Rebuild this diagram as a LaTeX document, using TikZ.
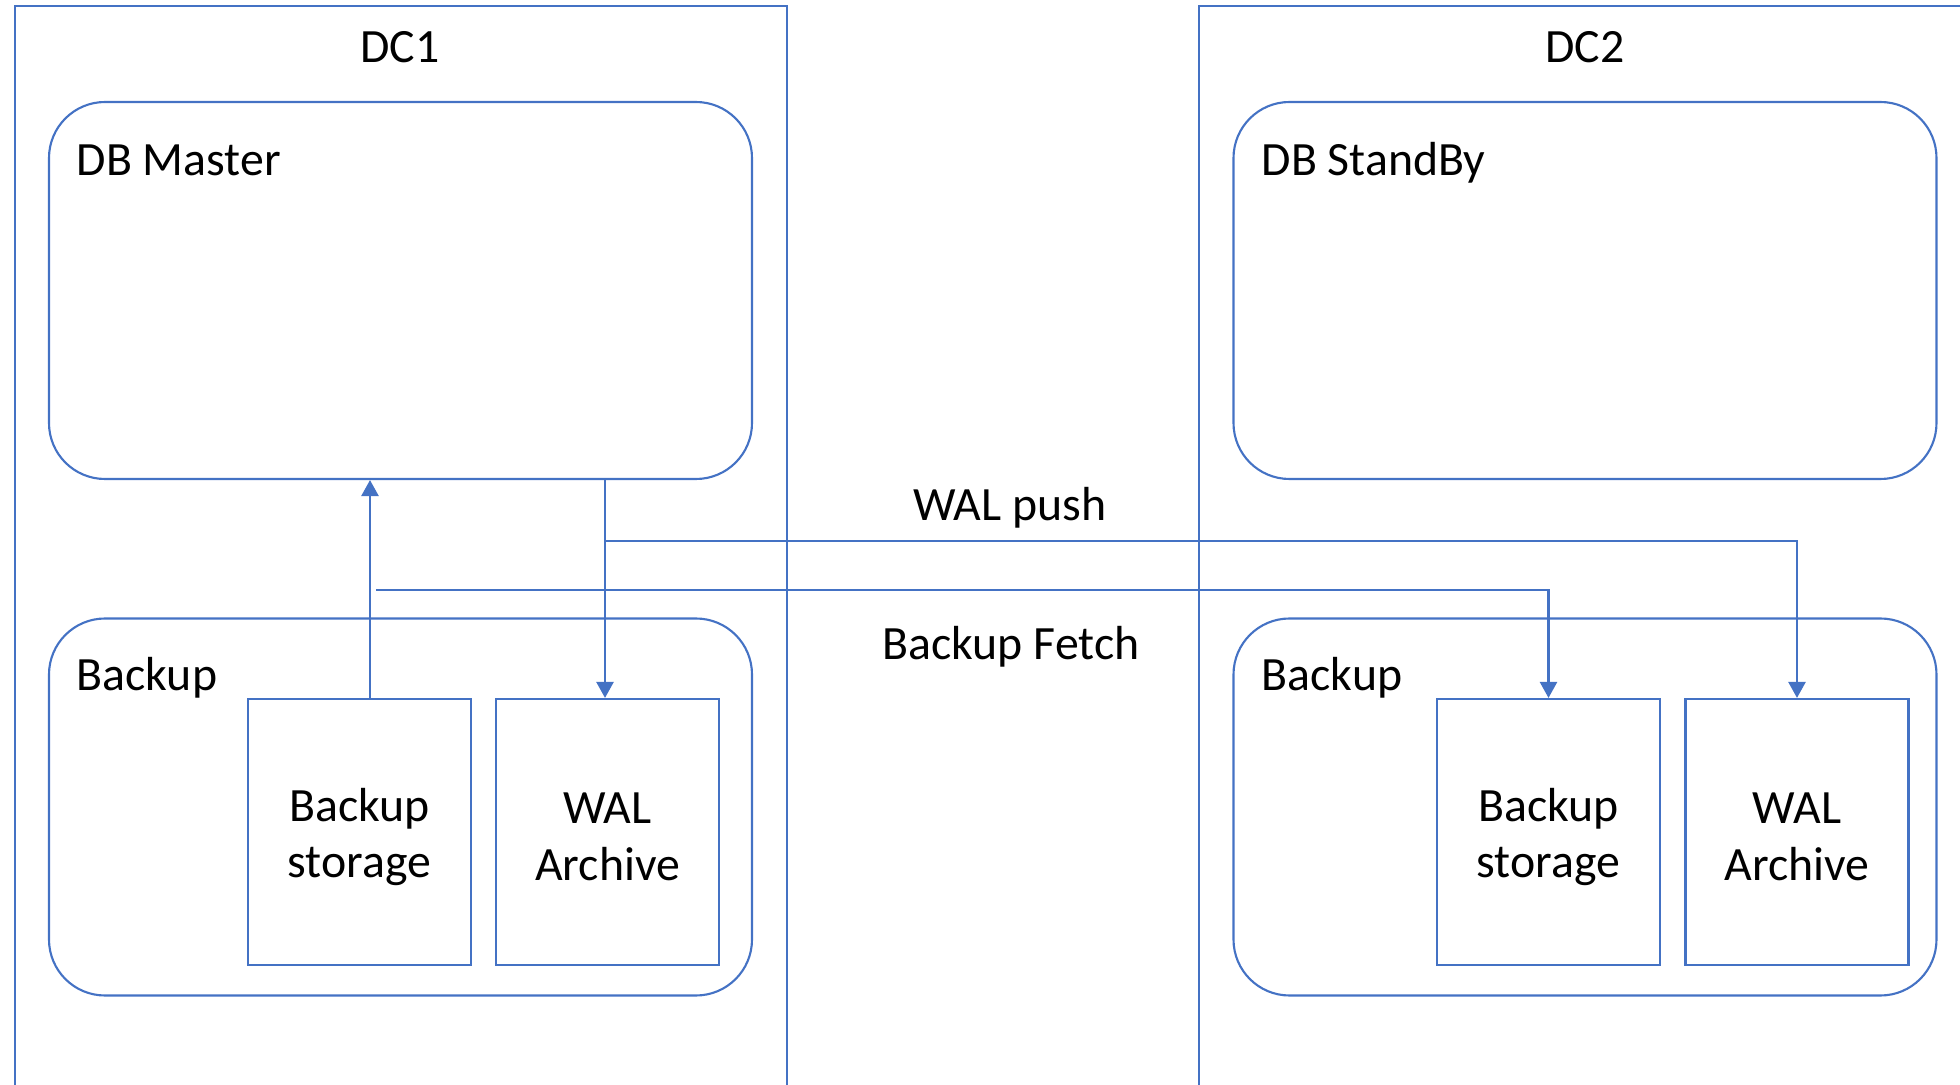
\documentclass[tikz,border=0pt]{standalone}
\usepackage{fontspec}
\setmainfont{Carlito}
\usetikzlibrary{arrows.meta}
\definecolor{officeblue}{HTML}{4472C4}

\begin{document}
\begin{tikzpicture}[x=0.1mm,y=-0.1mm]
        \tikzstyle{every node}=[font=\fontsize{13.6}{16.2}\selectfont, text=black]
        \tikzstyle{site}=[draw=officeblue, line width=0.55pt]
        \tikzstyle{group}=[draw=officeblue, line width=0.6pt, rounded corners=5.6mm, minimum width=70.3mm, minimum height=37.7mm]
        \tikzstyle{store}=[draw=officeblue, line width=0.6pt, minimum width=22.3mm, minimum height=26.6mm, inner sep=0pt]
        \tikzstyle{edge}=[officeblue, line width=0.7pt]
        \tikzstyle{flow}=[edge, -{Triangle[width=1.7mm,length=1.6mm]}]

        \useasboundingbox (0,0) rectangle (1960,1085);
        \clip (0,0) rectangle (1960,1085);

        \draw[site] (15,6) rectangle (787,1100);
        \draw[site] (1199,6) rectangle (1990,1100);

        \node[anchor=base] (dc1) at (400,63)  {DC1};
        \node[anchor=base] (dc2) at (1585,63) {DC2};

        \node[group] (master)  at (400.5,290.5) {};
        \node[group] (standby) at (1585,290.5)  {};
        \node[group] (bakA)    at (400.5,807)   {};
        \node[group] (bakB)    at (1585,807)    {};

        \node[anchor=base west, inner sep=0pt] (masterlbl)  at (76,176)   {DB Master};
        \node[anchor=base west, inner sep=0pt] (standbylbl) at (1261,176) {DB StandBy};
        \node[anchor=base west, inner sep=0pt] (bakAlbl)    at (76,691)   {Backup};
        \node[anchor=base west, inner sep=0pt] (bakBlbl)    at (1261,691) {Backup};

        \node[store] (bsA)  at (359.5,832)  {};
        \node[store] (walA) at (607.5,832)  {};
        \node[store] (bsB)  at (1548.5,832) {};
        \node[store] (walB) at (1797,832)   {};
        \node[align=center] (bsAtxt)  at (359.5,837)  {Backup\\storage};
        \node[align=center] (walAtxt) at (607.5,837)  {WAL\\Archive};
        \node[align=center] (bsBtxt)  at (1548.5,837) {Backup\\storage};
        \node[align=center] (walBtxt) at (1797,837)   {WAL\\Archive};

        \node[anchor=base] (pushlbl)  at (1010,521) {WAL push};
        \node[anchor=base] (fetchlbl) at (1011,660) {Backup Fetch};

        \coordinate (upx)   at (370,0);
        \coordinate (downx) at (605,0);
        \coordinate (pushy) at (0,541);
        \coordinate (fetch) at (376,590);

        \draw[flow] (bsA.north -| upx) -- (master.south -| upx);
        \draw[flow] (master.south -| downx) -- (walA.north -| downx);
        \draw[flow] (downx |- pushy) -- (walB.north |- pushy) -- (walB.north);
        \draw[flow] (fetch) -- (fetch -| bsB.north) -- (bsB.north);
    \end{tikzpicture}
\end{document}
